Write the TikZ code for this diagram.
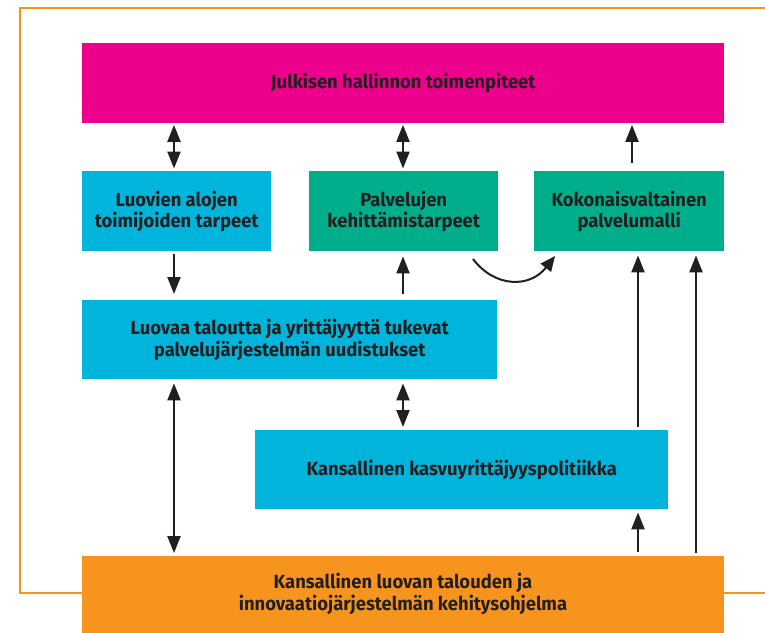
\documentclass[tikz,border=0pt]{standalone}
\usepackage{fontspec}
\setmainfont{Fira Sans}[FakeStretch=0.97]
\usetikzlibrary{arrows.meta,calc}
\definecolor{cmag}{HTML}{EC008C}
\definecolor{ccyan}{HTML}{00B4DC}
\definecolor{cgreen}{HTML}{00AE8C}
\definecolor{corange}{HTML}{F7941E}
\definecolor{ctext}{HTML}{231F20}
\tikzset{
  box/.style={anchor=north west, inner sep=0pt, align=center, text=ctext,
    font=\fontsize{19}{21.5}\selectfont\bfseries},
  frameline/.style={draw=corange, line width=2pt},
  arr/.style={draw=ctext, line width=2.2pt, -{Triangle[length=17pt,width=13pt]}},
  dbl/.style={draw=ctext, line width=2.2pt, {Triangle[length=17pt,width=13pt]}-{Triangle[length=17pt,width=13pt]}},
}
\begin{document}
\begin{tikzpicture}[x=1pt,y=-1pt]
\useasboundingbox (0,0) rectangle (765,632);
\begin{scope}
\clip (0,0) rectangle (765,632);
\draw[frameline] (780,8) -- (20,8) -- (20,593) -- (780,593);
\node[box, fill=cmag, minimum width=642pt, minimum height=80pt] (mag) at (82,43) {Julkisen hallinnon toimenpiteet};
\node[box, fill=ccyan, minimum width=189pt, minimum height=80pt] (c1) at (82,171) {Luovien alojen\\toimijoiden tarpeet};
\node[box, fill=cgreen, minimum width=189pt, minimum height=80pt] (g1) at (309,171) {Palvelujen\\kehittämistarpeet};
\node[box, fill=cgreen, minimum width=190pt, minimum height=80pt] (g2) at (534,171) {Kokonaisvaltainen\\palvelumalli};
\node[box, fill=ccyan, minimum width=415pt, minimum height=79pt] (lu) at (82,300) {Luovaa taloutta ja yrittäjyyttä tukevat\\palvelujärjestelmän uudistukset};
\node[box, fill=ccyan, minimum width=413pt, minimum height=79pt] (ka) at (255,430) {Kansallinen kasvuyrittäjyyspolitiikka};
\node[box, fill=corange, minimum width=642pt, minimum height=90pt, text depth=0pt] (or) at (82,556) {};
\node[anchor=center, align=center, text=ctext, inner sep=0pt, font=\fontsize{19}{21.5}\selectfont\bfseries] (ortxt) at (403,594) {Kansallinen luovan talouden ja\\innovaatiojärjestelmän kehitysohjelma};
\end{scope}
\coordinate (xa) at (174,0);
\coordinate (xb) at (403,0);
\coordinate (xc) at (632,0);
\coordinate (xd) at (638,0);
\coordinate (xe) at (696,0);
\draw[dbl, shorten <=1.5pt, shorten >=2.5pt] (mag.south -| xa) -- (c1.north -| xa);
\draw[dbl, shorten <=1.5pt, shorten >=2.5pt] (mag.south -| xb) -- (g1.north -| xb);
\draw[arr, shorten <=8pt, shorten >=1.5pt] (g2.north -| xc) -- (mag.south -| xc);
\draw[arr, shorten <=3pt, shorten >=6pt] (c1.south -| xa) -- (lu.north -| xa);
\draw[arr, shorten <=6pt, shorten >=5pt] (lu.north -| xb) -- (g1.south -| xb);
\coordinate (cs) at (473,259);
\coordinate (ce) at (555,256);
\draw[arr, line width=2pt, -{Triangle[length=15pt,width=13pt]}] (cs) .. controls (495,288) and (530,288) .. (ce);
\draw[dbl, shorten <=4pt, shorten >=3pt] (lu.south -| xb) -- (ka.north -| xb);
\draw[dbl, shorten <=4pt, shorten >=3pt] (lu.south -| xa) -- (or.north -| xa);
\draw[arr, shorten <=3pt, shorten >=4pt] (ka.north -| xd) -- (g2.south -| xd);
\draw[arr, shorten <=4pt, shorten >=3pt] (or.north -| xd) -- (ka.south -| xd);
\draw[arr, shorten <=3pt, shorten >=4pt] (or.north -| xe) -- (g2.south -| xe);
\end{tikzpicture}
\end{document}
